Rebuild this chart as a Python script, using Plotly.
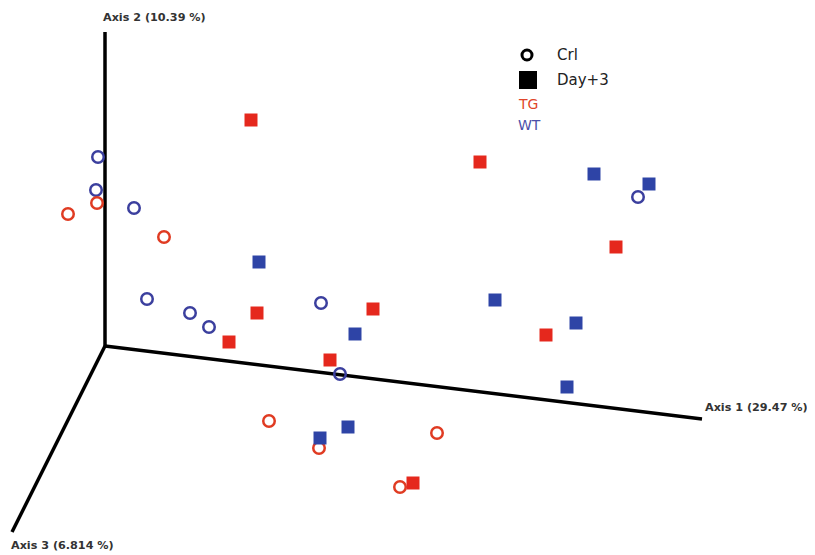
"""PCoA 3D projection (Emperor-style) recreated as a flat Plotly scatter."""

import plotly.graph_objects as go


# ----- Projected sample coordinates (screen projection, y grows downward) -----
TG_DAY3_X = [251, 480, 616, 257, 229, 373, 330, 546, 413]
TG_DAY3_Y = [120, 162, 247, 313, 342, 309, 360, 335, 483]

WT_DAY3_X = [594, 649, 259, 495, 355, 576, 567, 348, 320]
WT_DAY3_Y = [174, 184, 262, 300, 334, 323, 387, 427, 438]

TG_CRL_X = [68, 97, 164, 269, 319, 437, 400]
TG_CRL_Y = [214, 203, 237, 421, 448, 433, 487]

WT_CRL_X = [98, 96, 134, 147, 190, 209, 321, 340, 638]
WT_CRL_Y = [157, 190, 208, 299, 313, 327, 303, 374, 197]

# ----- Projected axis ends -----
ORIGIN = (105, 346)
AXIS_ENDS = {
    "Axis 1 (29.47 %)": (702, 419),
    "Axis 2 (10.39 %)": (105, 32),
    "Axis 3 (6.814 %)": (12, 532),
}

RED = "#E5281D"
BLUE = "#2E44A6"
RED_RING = "#E03B22"
BLUE_RING = "#3B3F9E"

# the page body has an 8px margin, so the plot starts 8px in
PAGE_PAD = 8

fig = go.Figure()

# axis lines
for name, (ex, ey) in AXIS_ENDS.items():
    fig.add_trace(go.Scatter(
        x=[ORIGIN[0], ex], y=[ORIGIN[1], ey], mode="lines",
        line=dict(color="black", width=3.5), hoverinfo="skip", showlegend=False,
        cliponaxis=False
    ))

# samples
fig.add_trace(go.Scatter(
    x=WT_CRL_X, y=WT_CRL_Y, mode="markers", name="WT Crl",
    marker=dict(symbol="circle-open", size=11.5, color=BLUE_RING, line=dict(width=2.5))
))
fig.add_trace(go.Scatter(
    x=TG_CRL_X, y=TG_CRL_Y, mode="markers", name="TG Crl",
    marker=dict(symbol="circle-open", size=11.5, color=RED_RING, line=dict(width=2.5))
))
fig.add_trace(go.Scatter(
    x=WT_DAY3_X, y=WT_DAY3_Y, mode="markers", name="WT Day+3",
    marker=dict(symbol="square", size=13, color=BLUE, line=dict(width=0))
))
fig.add_trace(go.Scatter(
    x=TG_DAY3_X, y=TG_DAY3_Y, mode="markers", name="TG Day+3",
    marker=dict(symbol="square", size=13, color=RED, line=dict(width=0))
))

# hand-made legend
fig.add_trace(go.Scatter(
    x=[527], y=[55], mode="markers", hoverinfo="skip", showlegend=False,
    marker=dict(symbol="circle-open", size=10, color="black", line=dict(width=3))
))
fig.add_trace(go.Scatter(
    x=[528], y=[80], mode="markers", hoverinfo="skip", showlegend=False,
    marker=dict(symbol="square", size=18, color="black")
))

text_font = dict(family="DejaVu Sans", size=15, color="#222222")
legend_notes = [
    (555, 55, "Crl", text_font),
    (555, 80, "Day+3", text_font),
    (516, 104, "TG", dict(family="DejaVu Sans", size=14, color="#E0452A")),
    (516, 125, "WT", dict(family="DejaVu Sans", size=14, color="#4A4FA8")),
]
for x, y, txt, font in legend_notes:
    fig.add_annotation(x=x, y=y, text=txt, showarrow=False, xanchor="left",
                       yanchor="middle", font=font)

label_font = dict(family="DejaVu Sans", size=11.2, color="#333333")
fig.add_annotation(x=101, y=17, text="<b>Axis 2 (10.39 %)</b>", showarrow=False,
                   xanchor="left", yanchor="middle", font=label_font)
fig.add_annotation(x=703, y=407, text="<b>Axis 1 (29.47 %)</b>", showarrow=False,
                   xanchor="left", yanchor="middle", font=label_font)
fig.add_annotation(x=9, y=545, text="<b>Axis 3 (6.814 %)</b>", showarrow=False,
                   xanchor="left", yanchor="middle", font=label_font)

fig.update_layout(
    width=815 - PAGE_PAD, height=555 - PAGE_PAD,
    margin=dict(t=0, r=0, b=0, l=0),
    paper_bgcolor="white", plot_bgcolor="white",
    showlegend=False,
    xaxis=dict(range=[PAGE_PAD, 815], visible=False, fixedrange=True),
    yaxis=dict(range=[555, PAGE_PAD], visible=False, fixedrange=True),
)

fig.write_html("out.html")
